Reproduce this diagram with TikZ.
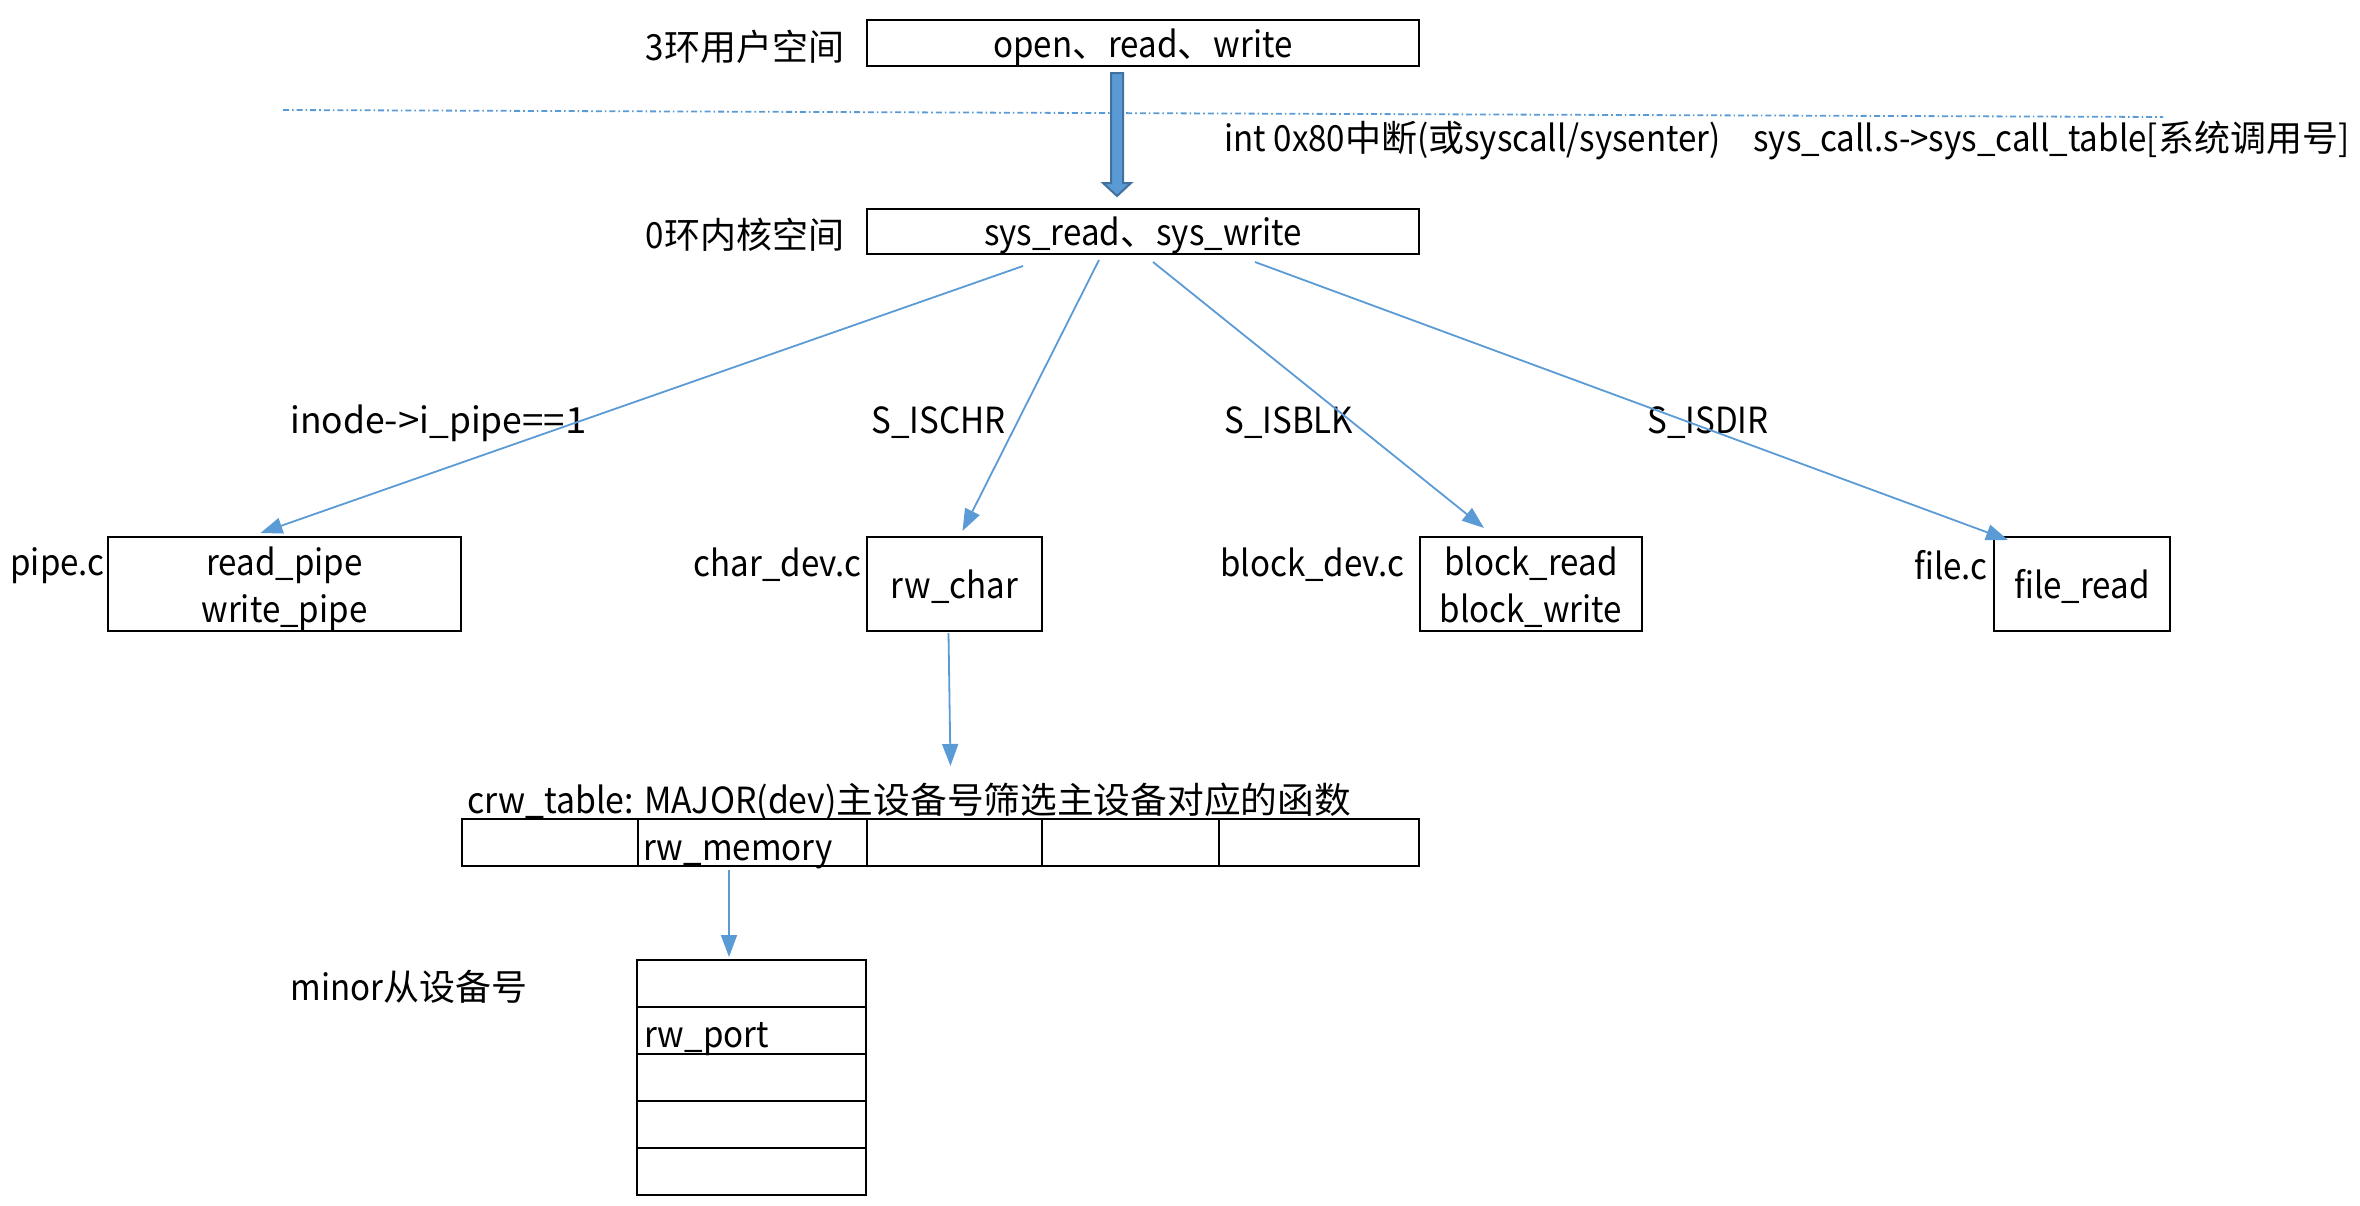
\documentclass[tikz,border=0pt]{standalone}
\usepackage{fontspec}
\usepackage{graphicx}
\setmainfont{Noto Sans CJK SC}[FakeStretch=0.92]
\newfontfamily\cjkfam{Noto Sans CJK SC}
\newcommand\zh[1]{{\cjkfam #1}}
\usetikzlibrary{arrows.meta,calc}
\definecolor{lblue}{HTML}{5B9BD5}
\definecolor{dblue}{HTML}{41719C}
\begin{document}
\begin{tikzpicture}[x=0.5pt,y=-0.5pt,
  every node/.style={font=\fontsize{18}{22}\selectfont, inner sep=0pt},
  box/.style={draw=black, line width=1pt, align=center},
  onebox/.style={box, text height=14pt, text depth=0pt},
  twobox/.style={box, text height=38pt, text depth=0pt},
  cell/.style={draw=black, line width=1pt, minimum height=23.5pt},
  conn/.style={draw=lblue, line width=0.9pt, -{Triangle[length=11pt,width=8pt]}},
  lbl/.style={anchor=west},
  rlbl/.style={anchor=east},
]
\useasboundingbox (0,0) rectangle (2360,1205);
% top level
\node[onebox, minimum width=276pt, minimum height=23pt] (user) at (1143,43) {open\zh{、}read\zh{、}write};
\node[onebox, minimum width=276pt, minimum height=22.5pt] (kern) at (1143,231.5) {sys\_read\zh{、}sys\_write};
\node (ul) at (745,47) {3\zh{环用户空间}};
\node (kl) at (745,235) {0\zh{环内核空间}};
\coordinate (dl) at (283,110);
\coordinate (dr) at (2163,117);
\draw[lblue, line width=0.9pt, dash pattern=on 3pt off 1.5pt on 0.8pt off 1.5pt] (dl) -- (dr);
% block arrow
\draw[fill=lblue, draw=dblue, line width=1pt] (1111,73) -- (1123,73) -- (1123,183) -- (1131,183) -- (1117,196) -- (1103,183) -- (1111,183) -- cycle;
\node[lbl] (intl) at (1224,141) {int 0x80\zh{中断}(\zh{或}syscall/sysenter)\hspace{0.9em}sys\_call.s->sys\_call\_table[\zh{系统调用号}]};
% second level boxes
\node[twobox, minimum width=176.5pt, minimum height=47pt] (pipe) at (284.5,584) {read\_pipe\\[1.5pt]write\_pipe};
\node[onebox, minimum width=87.5pt, minimum height=47pt] (char) at (954.5,584) {rw\_char};
\node[twobox, minimum width=111pt, minimum height=47pt] (blk) at (1531,584) {block\_read\\[1.5pt]block\_write};
\node[onebox, minimum width=88pt, minimum height=47pt] (file) at (2082,584) {file\_read};
\node[rlbl] (pipec) at (105,566) {pipe.c};
\node[rlbl] (charc) at (862,565) {char\_dev.c};
\node[rlbl] (blkc) at (1405,565) {block\_dev.c};
\node[rlbl] (filec) at (1988,565) {file.c};
% condition labels
\node[lbl] (cpipe) at (290,423) {\scalebox{1.07}[1]{inode\zh{->}i\_pipe\zh{==1}}};
\node[lbl] (cchr) at (871,423) {S\_ISCHR};
\node[lbl] (cblk) at (1224,423) {S\_ISBLK};
\node[lbl] (cdir) at (1647,423) {S\_ISDIR};
% crw table
\node[lbl] (crwl) at (467,802) {\scalebox{1.02}[1]{crw\_table: MAJOR(dev)\zh{主设备号筛选主设备对应的函数}}};
\node[cell, minimum width=88pt] (c1) at (550,842.5) {};
\node[cell, minimum width=114.5pt] (c2) at (752.5,842.5) {};
\node[cell, minimum width=87.5pt] (c3) at (954.5,842.5) {};
\node[cell, minimum width=88.5pt] (c4) at (1130.5,842.5) {};
\node[cell, minimum width=100pt] (c5) at (1319,842.5) {};
\node[lbl] (rwm) at (643,855) {rw\_memory};
% minor table
\node[lbl] (minl) at (290,987) {minor\zh{从设备号}};
\node[cell, minimum width=114.5pt] (m1) at (751.5,983.5) {};
\node[cell, minimum width=114.5pt] (m2) at (751.5,1030.5) {};
\node[cell, minimum width=114.5pt] (m3) at (751.5,1077.5) {};
\node[cell, minimum width=114.5pt] (m4) at (751.5,1124.5) {};
\node[cell, minimum width=114.5pt] (m5) at (751.5,1171.5) {};
\node[lbl] (rwp) at (644,1039) {rw\_port};
% connectors
\draw[conn] ($(kern.south)+(-120,11)$) -- ($(pipe.north)+(-24,-3)$);
\draw[conn] ($(kern.south)+(-44,5)$) -- ($(char.north)+(8,-5)$);
\draw[conn] ($(kern.south)+(10,7)$) -- ($(blk.north)+(-47,-8)$);
\draw[conn] ($(kern.south)+(112,7)$) -- ($(file.north)+(-74,4)$);
\draw[conn] ($(char.south)+(-6,1)$) -- ($(c3.north)+(-4,-52)$);
\draw[conn] ($(c2.south)+(-23.5,3)$) -- ($(m1.north)+(-22.5,-2)$);
\end{tikzpicture}
\end{document}
